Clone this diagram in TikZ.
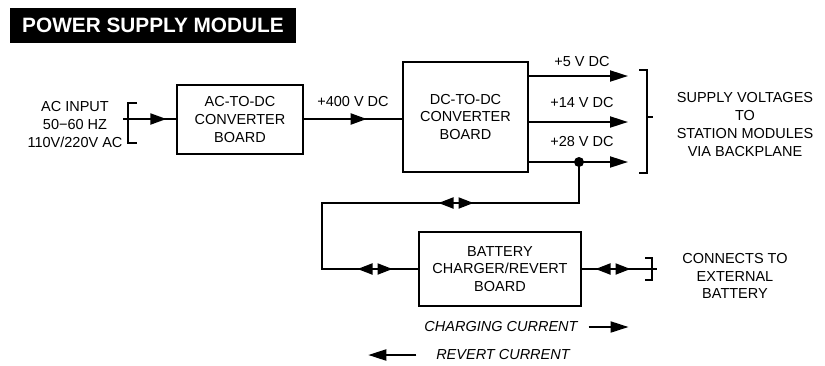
\documentclass[tikz,border=0pt]{standalone}
\usepackage{fontspec}
\setmainfont{Liberation Sans}
\usetikzlibrary{arrows.meta,decorations.markings}

\begin{document}
\begin{tikzpicture}[
  x=1pt, y=-1pt,
  font=\fontsize{14.5}{17.8}\selectfont,
  line width=2pt,
  board/.style={draw, align=center, inner sep=0pt},
  tag/.style={align=center, inner sep=0pt},
  brace/.style={line width=1.4pt},
  head/.style={-{Triangle[length=18pt,width=11pt]}},
  twohead/.style={-{Triangle[length=15pt,width=11pt]}},
  midhead/.style={postaction={decorate}, decoration={markings,
      mark=at position #1 with {\arrow{Triangle[length=16pt,width=11pt]}}}}
]
\useasboundingbox (0,0) rectangle (825,365);

\node[fill=black, text=white, font=\fontsize{20.8}{24}\selectfont\bfseries,
      minimum width=286pt, minimum height=35pt, inner sep=0pt] (title) at (153,25.5) {POWER SUPPLY MODULE};

\node[board, minimum width=126pt, minimum height=69pt] (acdc) at (240,119.5) {AC-TO-DC\\CONVERTER\\BOARD};
\node[board, minimum width=125pt, minimum height=110pt] (dcdc) at (465.5,117) {DC-TO-DC\\CONVERTER\\BOARD};
\node[board, minimum width=162pt, minimum height=74pt] (charger) at (500,269) {BATTERY\\CHARGER/REVERT\\BOARD};

\node[tag] (acin) at (75,124.5) {AC INPUT\\50−60 HZ\\110V/220V AC};
\node[tag] (supply) at (745,124.5) {SUPPLY VOLTAGES\\TO\\STATION MODULES\\VIA BACKPLANE};
\node[tag] (extbat) at (735,276) {CONNECTS TO\\EXTERNAL\\BATTERY};
\node[tag] (v400) at (353,102) {+400 V DC};
\node[tag] (v5) at (582,62) {+5 V DC};
\node[tag] (v14) at (582,103) {+14 V DC};
\node[tag] (v28) at (582,142) {+28 V DC};
\node[tag, font=\fontsize{14.5}{17.8}\selectfont\itshape] (chg) at (501,327) {CHARGING CURRENT};
\node[tag, font=\fontsize{14.5}{17.8}\selectfont\itshape] (rev) at (503,355) {REVERT CURRENT};

% input bracket
\coordinate (inbrk) at (128,119);
\draw[brace] (137,103) -- (128,103) -- (128,143) -- (137,143);
\draw[brace] (inbrk) -- ++(-5,0);
\draw[midhead=0.8] (inbrk) -- (inbrk -| acdc.west);
\draw[midhead=0.64] (inbrk -| acdc.east) -- (inbrk -| dcdc.west);

% outputs
\coordinate (o5) at (628,76);
\coordinate (o14) at (628,122);
\coordinate (o28) at (628,162);
\draw[head] (dcdc.east |- o5) -- (o5);
\draw[head] (dcdc.east |- o14) -- (o14);
\draw[head] (dcdc.east |- o28) -- (o28);
\draw[brace] (639,70) -- (647,70) -- (647,173) -- (639,173);
\draw[brace] (647,117) -- ++(6,0);

% battery loop
\coordinate (tap) at (579,162);
\coordinate (loopL) at (322,203);
\fill (tap) circle (5pt);
\draw (tap) |- (loopL) |- (charger.west);
\coordinate (rt) at (456,203);
\coordinate (rb) at (375,269);
\coordinate (re) at (613,269);
\foreach \c in {rt,rb,re} {
  \draw[twohead] ([xshift=2.5pt]\c) -- ++(15,0);
  \draw[twohead] ([xshift=-2.5pt]\c) -- ++(-15,0);
}

% external battery
\coordinate (extbrk) at (652,269);
\draw (charger.east) -- (extbrk);
\draw[brace] (645,258) -- (652,258) -- (652,280) -- (645,280);
\draw[brace] (extbrk) -- ++(5,0);

% legend
\draw[head] ([xshift=10pt]chg.east) -- ++(40,0);
\draw[head] ([xshift=-19pt]rev.west) -- ++(-48,0);
\end{tikzpicture}
\end{document}
